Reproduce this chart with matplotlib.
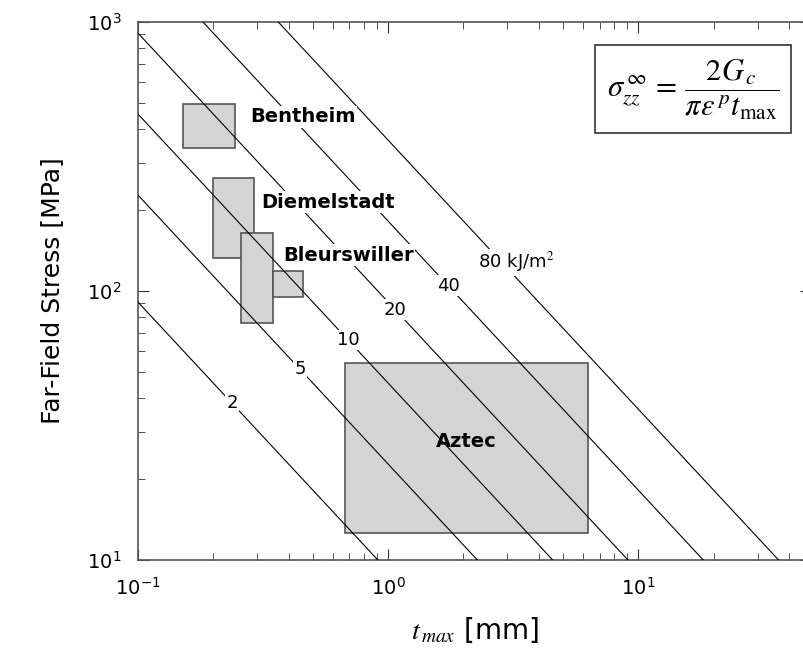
import numpy as np
import matplotlib
matplotlib.use('Agg')
from matplotlib import pyplot as plt
from matplotlib.patches import Rectangle

plt.rcParams['font.family'] = ['DejaVu Sans']
plt.rcParams['mathtext.fontset'] = 'stix'

# energy release rates of the guide lines [kJ/m^2]
G_values = [2, 5, 10, 20, 40, 80]
eps_p = 0.14

# observed ranges: (t_min, t_max, sigma_min, sigma_max)
rocks = ['Bentheim', 'Diemelstadt', 'Bleurswiller', 'Bleurswiller', 'Aztec']
t_lo = [0.151, 0.199, 0.258, 0.347, 0.673]
t_hi = [0.244, 0.292, 0.347, 0.456, 6.27]
s_lo = [340, 133, 76, 94.8, 12.6]
s_hi = [495, 264, 164, 119, 54.1]

fig = plt.figure(figsize=(8.04, 6.70), dpi=100)
ax = fig.add_axes([0.1716, 0.1642, 0.837, 0.8030])

t = np.logspace(-1, 2, 200)
for G in G_values:
    ax.plot(t, 2 * G / (np.pi * eps_p * t), color='k', lw=0.8, zorder=3)

for a, b, c, d in zip(t_lo, t_hi, s_lo, s_hi):
    ax.add_patch(Rectangle((a, c), b - a, d - c, facecolor='#d4d4d4',
                           edgecolor='#555555', lw=1.2, zorder=2))

# line labels
lab_t = [0.238, 0.445, 0.692, 1.067, 1.74]
for G, tt in zip(G_values[:-1], lab_t):
    ax.text(tt, 2 * G / (np.pi * eps_p * tt), str(G), fontsize=13,
            ha='center', va='center', zorder=4,
            bbox=dict(facecolor='white', edgecolor='none', pad=1))
ax.text(2.29, 128, '80 kJ/m$^2$', fontsize=13, ha='left', va='center', zorder=4,
        bbox=dict(facecolor='white', edgecolor='none', pad=1))

# rock names
box = dict(facecolor='white', edgecolor='none', pad=1)
ax.text(0.2805, 444, 'Bentheim', fontsize=14, fontweight='bold', ha='left', va='center', zorder=5, bbox=box)
ax.text(0.310, 214, 'Diemelstadt', fontsize=14, fontweight='bold', ha='left', va='center', zorder=5, bbox=box)
ax.text(0.380, 136, 'Bleurswiller', fontsize=14, fontweight='bold', ha='left', va='center', zorder=5, bbox=box)
ax.text(2.05, 27.5, 'Aztec', fontsize=14, fontweight='bold', ha='center', va='center', zorder=5)

ax.text(0.825, 0.875,
        r'$\sigma_{zz}^{\,\infty}\,=\,\dfrac{2G_{\,c}}{\pi\varepsilon^{\,p}t_{\max}}$',
        transform=ax.transAxes, fontsize=22, ha='center', va='center', zorder=6,
        bbox=dict(facecolor='white', edgecolor='#333333', boxstyle='square,pad=0.38', lw=1.2))

ax.set_xscale('log')
ax.set_yscale('log')
ax.set_xlim(0.1, 49)
ax.set_ylim(10, 1000)

ax.tick_params(which='both', direction='in', top=True, right=True, labelsize=14, color='#333333')
ax.tick_params(which='major', length=8, pad=12)
ax.tick_params(which='minor', length=5)
for sp in ax.spines.values():
    sp.set_color('#555555')
    sp.set_linewidth(1.2)

ax.set_ylabel('Far-Field Stress [MPa]', fontsize=18, labelpad=16)
ax.set_xlabel(r'$\mathit{t}_{\,\mathit{max}}$ [mm]', fontsize=20, labelpad=12)

fig.savefig('out.png', dpi=100)
